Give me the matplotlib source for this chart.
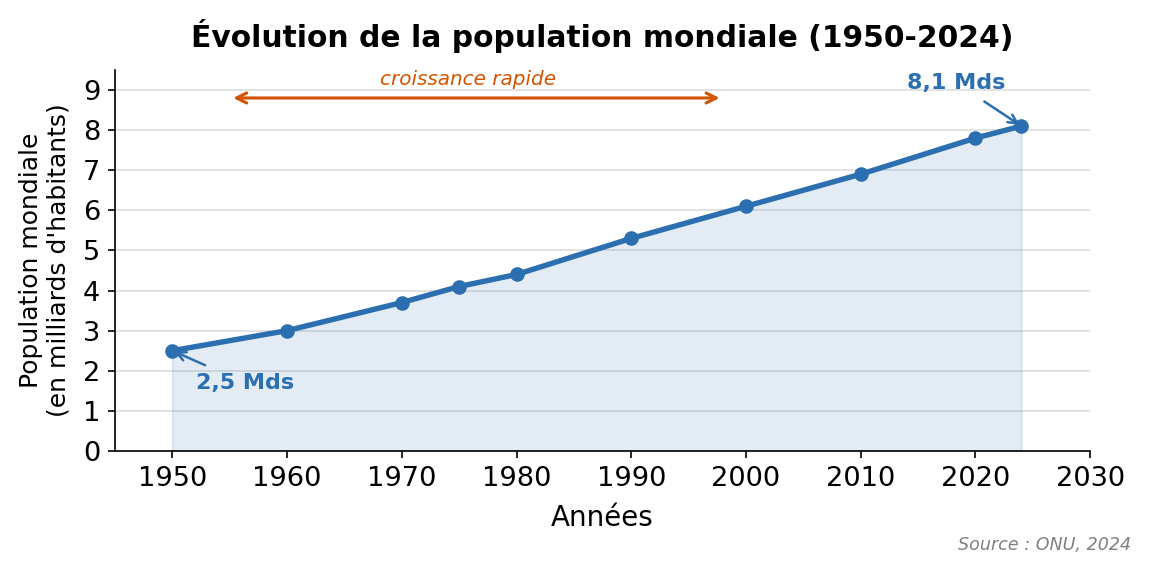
import matplotlib
matplotlib.use("Agg")
import matplotlib.pyplot as plt

years = [1950, 1960, 1970, 1975, 1980, 1990, 2000, 2010, 2020, 2024]
population = [2.5, 3.0, 3.7, 4.1, 4.4, 5.3, 6.1, 6.9, 7.8, 8.1]
xticks = [1950, 1960, 1970, 1980, 1990, 2000, 2010, 2020, 2030]
yticks = list(range(0, 10))

blue = "#2c6fb0"
orange = "#d35400"

fig = plt.figure(figsize=(1150/150, 573/150), dpi=150)
ax = fig.add_axes([0.100, 0.213, 0.848, 0.665])

ax.fill_between(years, population, 0, color=blue, alpha=0.13, zorder=1)
ax.plot(years, population, color=blue, lw=2.6, marker="o", ms=6, zorder=3)

ax.set_xlim(1945, 2030)
ax.set_ylim(0, 9.5)
ax.set_xticks(xticks)
ax.set_yticks(yticks)
ax.tick_params(labelsize=13.1)
ax.grid(axis="y", color="#dddddd", lw=0.8, zorder=0)
ax.set_axisbelow(True)
for s in ["top", "right"]:
    ax.spines[s].set_visible(False)

ax.set_xlabel("Années", fontsize=13.3, labelpad=6)
ax.set_ylabel("Population mondiale\n(en milliards d'habitants)", fontsize=12, labelpad=6)
ax.set_title("Évolution de la population mondiale (1950-2024)", fontsize=14.3,
             fontweight="bold", pad=11)

ax.annotate("", xy=(1955.3, 8.8), xytext=(1997.7, 8.8),
            arrowprops=dict(arrowstyle="<->", color=orange, lw=1.5,
                            shrinkA=0, shrinkB=0, mutation_scale=12))
ax.text(1975.8, 9.25, "croissance rapide", color=orange, fontsize=9.6,
        style="italic", ha="center", va="center")

ax.annotate("8,1 Mds", xy=(2024, 8.1), xytext=(2018.3, 9.18),
            color=blue, fontsize=10.7, fontweight="bold", ha="center", va="center",
            arrowprops=dict(arrowstyle="->", color=blue, lw=1.2,
                            shrinkA=4, shrinkB=1))
ax.annotate("2,5 Mds", xy=(1950, 2.5), xytext=(1956.3, 1.7),
            color=blue, fontsize=10.7, fontweight="bold", ha="center", va="center",
            arrowprops=dict(arrowstyle="->", color=blue, lw=1.2,
                            shrinkA=4, shrinkB=1))

fig.text(0.984, 0.048, "Source : ONU, 2024", fontsize=8.4, style="italic",
         color="gray", ha="right", va="center")

fig.savefig("out.png", dpi=150)
